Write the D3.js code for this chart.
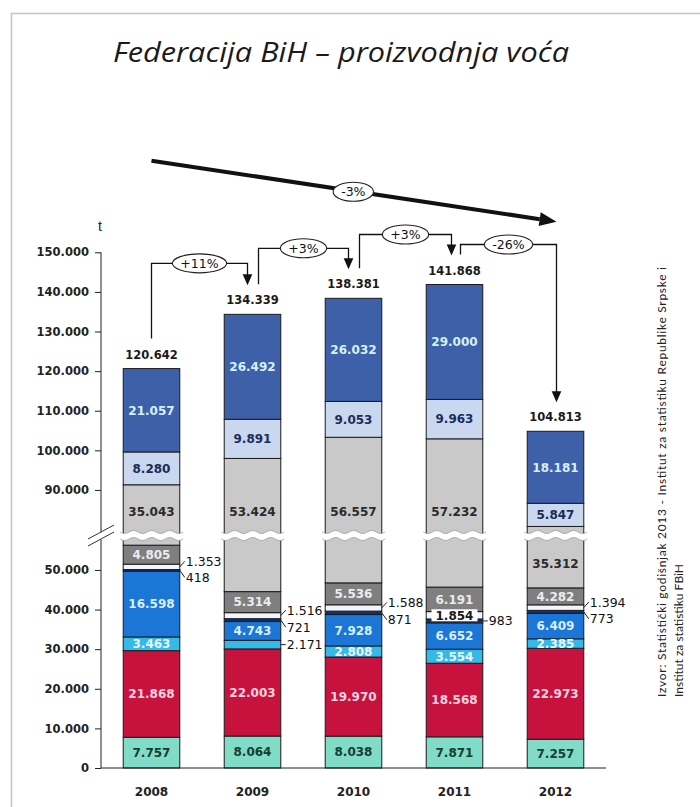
<!DOCTYPE html>
<html>
<head>
<meta charset="utf-8">
<script src="https://cdn.jsdelivr.net/npm/d3@7"></script>
<style>
  body { margin: 0; background: #fff; }
  svg { display: block; }
</style>
</head>
<body>
<svg id="chart" width="700" height="807"></svg>
<script>
// --- data ---------------------------------------------------------------
const years = ["2008", "2009", "2010", "2011", "2012"];

// stacked from the axis upwards
const teal      = [7757, 8064, 8038, 7871, 7257];
const crimson   = [21868, 22003, 19970, 18568, 22973];
const cyan      = [3463, 2171, 2808, 3554, 2385];
const blue      = [16598, 4743, 7928, 6652, 6409];
const navy      = [418, 721, 871, 983, 773];
const white     = [1353, 1516, 1588, 1854, 1394];
const darkGrey  = [4805, 5314, 5536, 6191, 4282];
const lightGrey = [35043, 53424, 56557, 57232, 35312];
const paleBlue  = [8280, 9891, 9053, 9963, 5847];
const steelBlue = [21057, 26492, 26032, 29000, 18181];

const totals = [120642, 134339, 138381, 141868, 104813];
const changeLabels = ["+11%", "+3%", "+3%", "-26%"];
const overallLabel = "-3%";

const yTicks = [0, 10000, 20000, 30000, 40000, 50000,
                90000, 100000, 110000, 120000, 130000, 140000, 150000];

const title = "Federacija BiH \u2013 proizvodnja voća";
const source1 = "Izvor: Statistički godišnjak 2013 - Institut za statistiku Republike Srpske i";
const source2 = "Institut za statistiku FBiH";

// --- setup ----------------------------------------------------------------
const seriesKeys = ["teal", "crimson", "cyan", "blue", "navy", "white", "darkGrey", "lightGrey", "paleBlue", "steelBlue"];
const seriesValues = [teal, crimson, cyan, blue, navy, white, darkGrey, lightGrey, paleBlue, steelBlue];
const fills  = ["#80dcc6", "#c8123e", "#35b9e6", "#1b76d6", "#12306e", "#f2f6fc", "#7f7f7f", "#c9c9c9", "#c9d7ef", "#3e60a9"];
const inkIn  = ["#173c33", "#f7d6e0", "#e6f7ff", "#d8efff", "#fff", "#222", "#ececec", "#2a2a2a", "#1c2c58", "#d6f1fa"];

const table = years.map((yr, i) => {
  const row = { year: yr };
  seriesKeys.forEach((k, j) => row[k] = seriesValues[j][i]);
  return row;
});
const stacked = d3.stack().keys(seriesKeys)(table);

const svg = d3.select("#chart");
const W = 700, H = 807;
const numFont = "'DejaVu Sans', sans-serif";

svg.append("rect").attr("width", W).attr("height", H).attr("fill", "#fff");
svg.append("rect")   // slide frame
  .attr("x", 11.5).attr("y", 13.5).attr("width", W).attr("height", H)
  .attr("fill", "none").attr("stroke", "#c6c6c6").attr("stroke-width", 1.6);

svg.append("text")
  .attr("x", 113).attr("y", 62)
  .attr("textLength", 456).attr("lengthAdjust", "spacingAndGlyphs")
  .attr("font-family", "'Open Sans', Lato, sans-serif").attr("font-style", "italic")
  .attr("font-size", 27).attr("fill", "#1a1a1a")
  .text(title);

// broken value axis: the span between brkLo and brkHi is cut out
const yBreak = 535.5, gap = 3.5;
const brkLo = 58700, brkHi = 78500;
const y = d3.scaleLinear()
  .domain([0, brkLo, brkHi, 150000])
  .range([768, yBreak, yBreak, 252.3]);

const x = d3.scaleBand().domain(years).range([101, 606])
  .paddingInner(0.44).paddingOuter(0.22);

const fmt = d3.formatLocale({ decimal: ",", thousands: ".", grouping: [3], currency: ["", ""] }).format(",d");

// --- bars -------------------------------------------------------------------
const gBars = svg.append("g");
stacked.forEach((layer, j) => {
  gBars.selectAll(null).data(layer).join("rect")
    .attr("x", d => x(d.data.year))
    .attr("width", x.bandwidth())
    .attr("y", d => y(d[1]))
    .attr("height", d => y(d[0]) - y(d[1]))
    .attr("fill", fills[j])
    .attr("stroke", "#1b1b1b").attr("stroke-width", 1);
});

// wavy cut across each bar at the break
const wave = (x0, x1, off) => d3.range(x0, x1 + 0.5, 1).map(px => [px, yBreak + off + 1.5 * Math.sin((px - x0) / 18 * 2 * Math.PI)]);
years.forEach(yr => {
  const x0 = x(yr) - 3, x1 = x(yr) + x.bandwidth() + 3;
  const top = wave(x0, x1, -gap), bot = wave(x0, x1, gap);
  svg.append("path")
    .attr("d", d3.line()(top.concat(bot.slice().reverse())) + "Z")
    .attr("fill", "#fff");
  [top, bot].forEach(pts => svg.append("path").attr("d", d3.line()(pts))
    .attr("fill", "none").attr("stroke", "#9a9a9a").attr("stroke-width", 0.8));
});

// --- segment labels -----------------------------------------------------------
const outside = { "2008": [4, 5], "2009": [2, 4, 5], "2010": [4, 5], "2011": [4], "2012": [4, 5] };
const boxed = { "2011": [5] };
const gLab = svg.append("g");

stacked.forEach((layer, j) => {
  layer.forEach(d => {
    const yr = d.data.year;
    const y0 = y(d[0]), y1 = y(d[1]);
    const v = d[1] - d[0];
    let cy = (y0 + y1) / 2;
    if (d[0] < brkLo && d[1] > brkHi) {
      const hUp = (yBreak - gap) - y1, hDown = y0 - (yBreak + gap);
      cy = hUp >= hDown ? yBreak - gap - 20 : yBreak + gap + hDown / 2;
    }
    const right = x(yr) + x.bandwidth();
    if (outside[yr].includes(j)) {
      const both = outside[yr].includes(4) && outside[yr].includes(5);
      const dy = both ? (j === 5 ? -5.5 : j === 4 ? 7 : 0) : 0;
      const lx = right + 6, ly = cy + dy;
      gLab.append("line")
        .attr("x1", right).attr("y1", cy).attr("x2", lx - 1).attr("y2", ly)
        .attr("stroke", "#222").attr("stroke-width", 1);
      gLab.append("text")
        .attr("x", lx).attr("y", ly).attr("dy", "0.36em")
        .attr("font-family", numFont).attr("font-size", 12.5).attr("fill", "#111")
        .text(fmt(v));
    } else if (boxed[yr] && boxed[yr].includes(j)) {
      const cx = x(yr) + x.bandwidth() / 2;
      gLab.append("rect")
        .attr("x", cx - 23).attr("y", cy - 6).attr("width", 46).attr("height", 12)
        .attr("fill", "#fff");
      gLab.append("text")
        .attr("x", cx).attr("y", cy).attr("dy", "0.36em").attr("text-anchor", "middle")
        .attr("font-family", numFont).attr("font-weight", "bold").attr("font-size", 12)
        .attr("fill", "#1a1a1a").text(fmt(v));
    } else {
      gLab.append("text")
        .attr("x", x(yr) + x.bandwidth() / 2).attr("y", cy).attr("dy", "0.36em")
        .attr("text-anchor", "middle")
        .attr("font-family", numFont).attr("font-weight", "bold").attr("font-size", 12)
        .attr("fill", inkIn[j]).text(fmt(v));
    }
  });
});

// totals on top
svg.append("g").selectAll("text").data(totals).join("text")
  .attr("x", (d, i) => x(years[i]) + x.bandwidth() / 2)
  .attr("y", d => y(d) - 10)
  .attr("text-anchor", "middle")
  .attr("font-family", numFont).attr("font-weight", "bold").attr("font-size", 11.5)
  .attr("fill", "#1a1a1a")
  .text(d => fmt(d));

// --- axes --------------------------------------------------------------------
const gy = svg.append("g").attr("transform", "translate(101,0)")
  .call(d3.axisLeft(y).tickValues(yTicks).tickSize(6).tickPadding(6).tickFormat(fmt));
gy.select(".domain").remove();
gy.selectAll(".tick line").attr("stroke", "#222");
gy.selectAll(".tick text")
  .attr("font-family", numFont).attr("font-weight", "bold").attr("font-size", 11.5).attr("fill", "#222");

svg.append("line").attr("x1", 101).attr("x2", 101).attr("y1", y(150000)).attr("y2", yBreak - 3)
  .attr("stroke", "#222");
svg.append("line").attr("x1", 101).attr("x2", 101).attr("y1", yBreak + 4).attr("y2", y(0))
  .attr("stroke", "#222");
[-3.5, 3.5].forEach(off => {
  svg.append("line")
    .attr("x1", 88).attr("y1", yBreak + off + 7).attr("x2", 114).attr("y2", yBreak + off - 7)
    .attr("stroke", "#333").attr("stroke-width", 1);
});

svg.append("line").attr("x1", 101).attr("x2", 606).attr("y1", y(0)).attr("y2", y(0))
  .attr("stroke", "#222");

svg.append("g").selectAll("text").data(years).join("text")
  .attr("x", d => x(d) + x.bandwidth() / 2).attr("y", 796)
  .attr("text-anchor", "middle")
  .attr("font-family", numFont).attr("font-weight", "bold").attr("font-size", 12)
  .attr("fill", "#222").text(d => d);

svg.append("text").attr("x", 100).attr("y", 231).attr("text-anchor", "middle")
  .attr("font-family", "'Liberation Sans', Arial, sans-serif").attr("font-size", 14)
  .attr("fill", "#222").text("t");

// --- year-on-year brackets ---------------------------------------------------
const bracketLift = [51, 50, 50, 40];
const startDx = [0, 6, 6, 6], endDx = [-5, -5, -3, 1];
const gAnn = svg.append("g");
const pctFont = "'DejaVu Sans', sans-serif";

function ovalLabel(cx, cy, label, fs) {
  const t = gAnn.append("text").attr("x", cx).attr("y", cy).attr("dy", "0.36em")
    .attr("text-anchor", "middle").attr("font-family", pctFont).attr("font-size", fs)
    .attr("fill", "#111").text(label);
  const w = t.node().getComputedTextLength();
  gAnn.insert("ellipse", () => t.node())
    .attr("cx", cx).attr("cy", cy).attr("rx", w / 2 + 8).attr("ry", 9.5)
    .attr("fill", "#fff").attr("stroke", "#222").attr("stroke-width", 1.1);
}

changeLabels.forEach((lab, i) => {
  const c0 = x(years[i]) + x.bandwidth() / 2, c1 = x(years[i + 1]) + x.bandwidth() / 2;
  const sx = c0 + startDx[i], ex = c1 + endDx[i];
  const sy = y(totals[i]) - 30;
  const yH = y(Math.max(totals[i], totals[i + 1])) - bracketLift[i];
  const tip = y(totals[i + 1]) - 29;
  gAnn.append("path")
    .attr("d", `M${sx},${sy}V${yH}H${ex}V${tip - 10}`)
    .attr("fill", "none").attr("stroke", "#111").attr("stroke-width", 1.3);
  gAnn.append("path")
    .attr("d", `M${ex - 4.8},${tip - 11}L${ex + 4.8},${tip - 11}L${ex},${tip}Z`)
    .attr("fill", "#111");
  ovalLabel((sx + ex) / 2, yH, lab, 12.5);
});

// overall trend arrow
const ax0 = x(years[0]) + x.bandwidth() / 2, ay0 = 160.7;
const ax1 = x(years[4]) + x.bandwidth() / 2 + 1, ay1 = 221.7;
const ang = Math.atan2(ay1 - ay0, ax1 - ax0);
const hl = 17, hw = 7;
const bx = ax1 - hl * Math.cos(ang), by = ay1 - hl * Math.sin(ang);
gAnn.append("line").attr("x1", ax0).attr("y1", ay0).attr("x2", bx).attr("y2", by)
  .attr("stroke", "#111").attr("stroke-width", 4);
gAnn.append("path")
  .attr("d", `M${ax1},${ay1}L${bx + hw * Math.sin(ang)},${by - hw * Math.cos(ang)}L${bx - hw * Math.sin(ang)},${by + hw * Math.cos(ang)}Z`)
  .attr("fill", "#111");
ovalLabel(353.3, 191.7, overallLabel, 12.5);

// --- source note -------------------------------------------------------------
[[source1, 666, 430], [source2, 683, null]].forEach(([txt, bx2, len]) => {
  const t = svg.append("text")
    .attr("transform", `translate(${bx2},697) rotate(-90)`)
    .attr("font-family", "Lato, 'Open Sans', sans-serif").attr("font-size", 12)
    .attr("fill", "#222").text(txt);
  if (len) t.attr("textLength", len).attr("lengthAdjust", "spacing");
});
</script>
</body>
</html>
